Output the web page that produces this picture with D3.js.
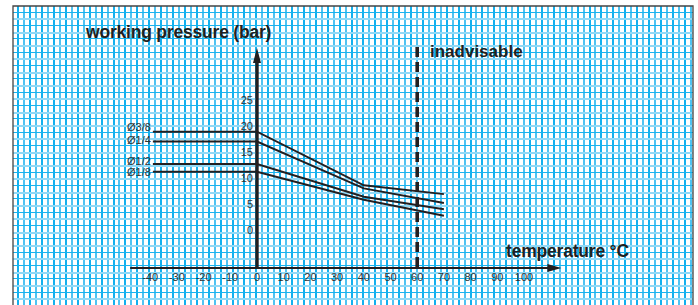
<!DOCTYPE html>
<html>
<head>
<meta charset="utf-8">
<script src="https://cdn.jsdelivr.net/npm/d3@7"></script>
<style>
  body { margin: 0; background: #fff; }
  text { font-family: "Liberation Sans", Arial, sans-serif; fill: #231f20; }
</style>
</head>
<body>
<div id="chart"></div>
<script>
// temperatures where the pressure lines bend
var temps = [-39, 0, 40, 70];

var sizes = ['Ø3/8', 'Ø1/4', 'Ø1/2', 'Ø1/8'];
var p38 = [18.9, 18.9, 8.6, 6.9];
var p14 = [17.0, 17.0, 8.0, 5.2];
var p12 = [12.7, 12.7, 6.4, 4.0];
var p18 = [11.2, 11.2, 5.8, 2.75];
// heights the size labels sit at (bar)
var sizeLabelAt = [19.9, 17.3, 13.3, 11.2];

var xTicks = [-40, -30, -20, -10, 0, 10, 20, 30, 40, 50, 60, 70, 80, 90, 100];
var yTicks = [0, 5, 10, 15, 20, 25];
var limitTemp = 60;

var w = 698,
    h = 305;

var svg = d3.select('#chart')
    .append('svg')
    .attr('width', w)
    .attr('height', h);

var x = d3.scaleLinear().domain([0, 100]).range([257, 524]);
var y = d3.scaleLinear().domain([0, 25]).range([230, 100]);

// graph paper
var frame = { left: 13, top: 6, right: 693 };
svg.append('rect')
    .attr('x', frame.left).attr('y', frame.top)
    .attr('width', frame.right - frame.left).attr('height', h)
    .attr('fill', '#fff');

var vLines = d3.range(18.3, frame.right - 1, 5.95).map(Math.round);
var hLines = d3.range(frame.top + 6.67, h + 2, 6.67).map(Math.round);

svg.selectAll('.vgrid')
    .data(vLines)
    .enter()
    .append('rect')
    .attr('x', function(d) { return d - 1; })
    .attr('y', frame.top)
    .attr('width', 2)
    .attr('height', h)
    .attr('fill', function(d, i) { return i % 2 ? '#4fc3f2' : '#12b0ee'; });

svg.selectAll('.hgrid')
    .data(hLines)
    .enter()
    .append('rect')
    .attr('x', frame.left)
    .attr('y', function(d, i) { return i % 2 ? d - 1 : d - 1; })
    .attr('width', frame.right - frame.left)
    .attr('height', function(d, i) { return i % 2 ? 2 : 1; })
    .attr('fill', function(d, i) { return i % 2 ? '#92d9f6' : '#1ab3ee'; });

svg.append('path')
    .attr('d', 'M' + frame.left + ',' + (h + 2) + 'V' + frame.top + 'H' + frame.right + 'V' + (h + 2))
    .attr('fill', 'none')
    .style('stroke', '#444')
    .style('stroke-width', 1.3);

// axes
svg.append('line')
    .attr('x1', x(-47.5)).attr('x2', x(109))
    .attr('y1', 268).attr('y2', 268)
    .style('stroke', '#231f20').style('stroke-width', 2);
svg.append('path')
    .attr('d', 'M' + x(114) + ',268 l-14,-4 v8 z')
    .attr('fill', '#231f20');

svg.append('line')
    .attr('x1', x(0)).attr('x2', x(0))
    .attr('y1', 268).attr('y2', y(32.5))
    .style('stroke', '#231f20').style('stroke-width', 3.4);
svg.append('path')
    .attr('d', 'M' + x(0) + ',' + y(35) + ' l-4,15 h8 z')
    .attr('fill', '#231f20');

svg.selectAll('.xlab')
    .data(xTicks)
    .enter()
    .append('text')
    .attr('x', function(d) { return x(d); })
    .attr('y', 281)
    .attr('text-anchor', 'middle')
    .style('font-size', '11px')
    .style('fill', '#333')
    .text(function(d) { return d; });

svg.selectAll('.ylab')
    .data(yTicks)
    .enter()
    .append('text')
    .attr('x', x(0) - 4)
    .attr('y', function(d) { return y(d) + 4; })
    .attr('text-anchor', 'end')
    .style('font-size', '11px')
    .style('fill', '#333')
    .text(function(d) { return d; });

// pressure lines
var series = [p38, p14, p12, p18];
var line = d3.line()
    .x(function(d, i) { return x(temps[i]); })
    .y(function(d) { return y(d); });

svg.selectAll('.pline')
    .data(series)
    .enter()
    .append('path')
    .attr('d', line)
    .attr('fill', 'none')
    .style('stroke', '#231f20')
    .style('stroke-width', 2);

svg.selectAll('.slab')
    .data(sizeLabelAt)
    .enter()
    .append('text')
    .attr('x', x(temps[0]) - 2)
    .attr('y', function(d) { return y(d) + 4; })
    .attr('text-anchor', 'end')
    .style('font-size', '11px')
    .style('fill', '#333')
    .text(function(d, i) { return sizes[i]; });

// limit
svg.append('line')
    .attr('x1', x(limitTemp)).attr('x2', x(limitTemp))
    .attr('y1', y(35.2)).attr('y2', 268)
    .style('stroke', '#231f20')
    .style('stroke-width', 3.6)
    .style('stroke-dasharray', '10,5');

// titles
svg.append('text')
    .attr('x', 86).attr('y', 38)
    .style('font-size', '17.5px').style('font-weight', 'bold')
    .style('letter-spacing', '-0.2px')
    .text('working pressure (bar)');

svg.append('text')
    .attr('x', 430).attr('y', 57)
    .style('font-size', '17px').style('font-weight', 'bold')
    .text('inadvisable');

svg.append('text')
    .attr('x', 506).attr('y', 256.5)
    .style('font-size', '17.5px').style('font-weight', 'bold')
    .style('letter-spacing', '-0.2px')
    .text('temperature °C');
</script>
</body>
</html>
